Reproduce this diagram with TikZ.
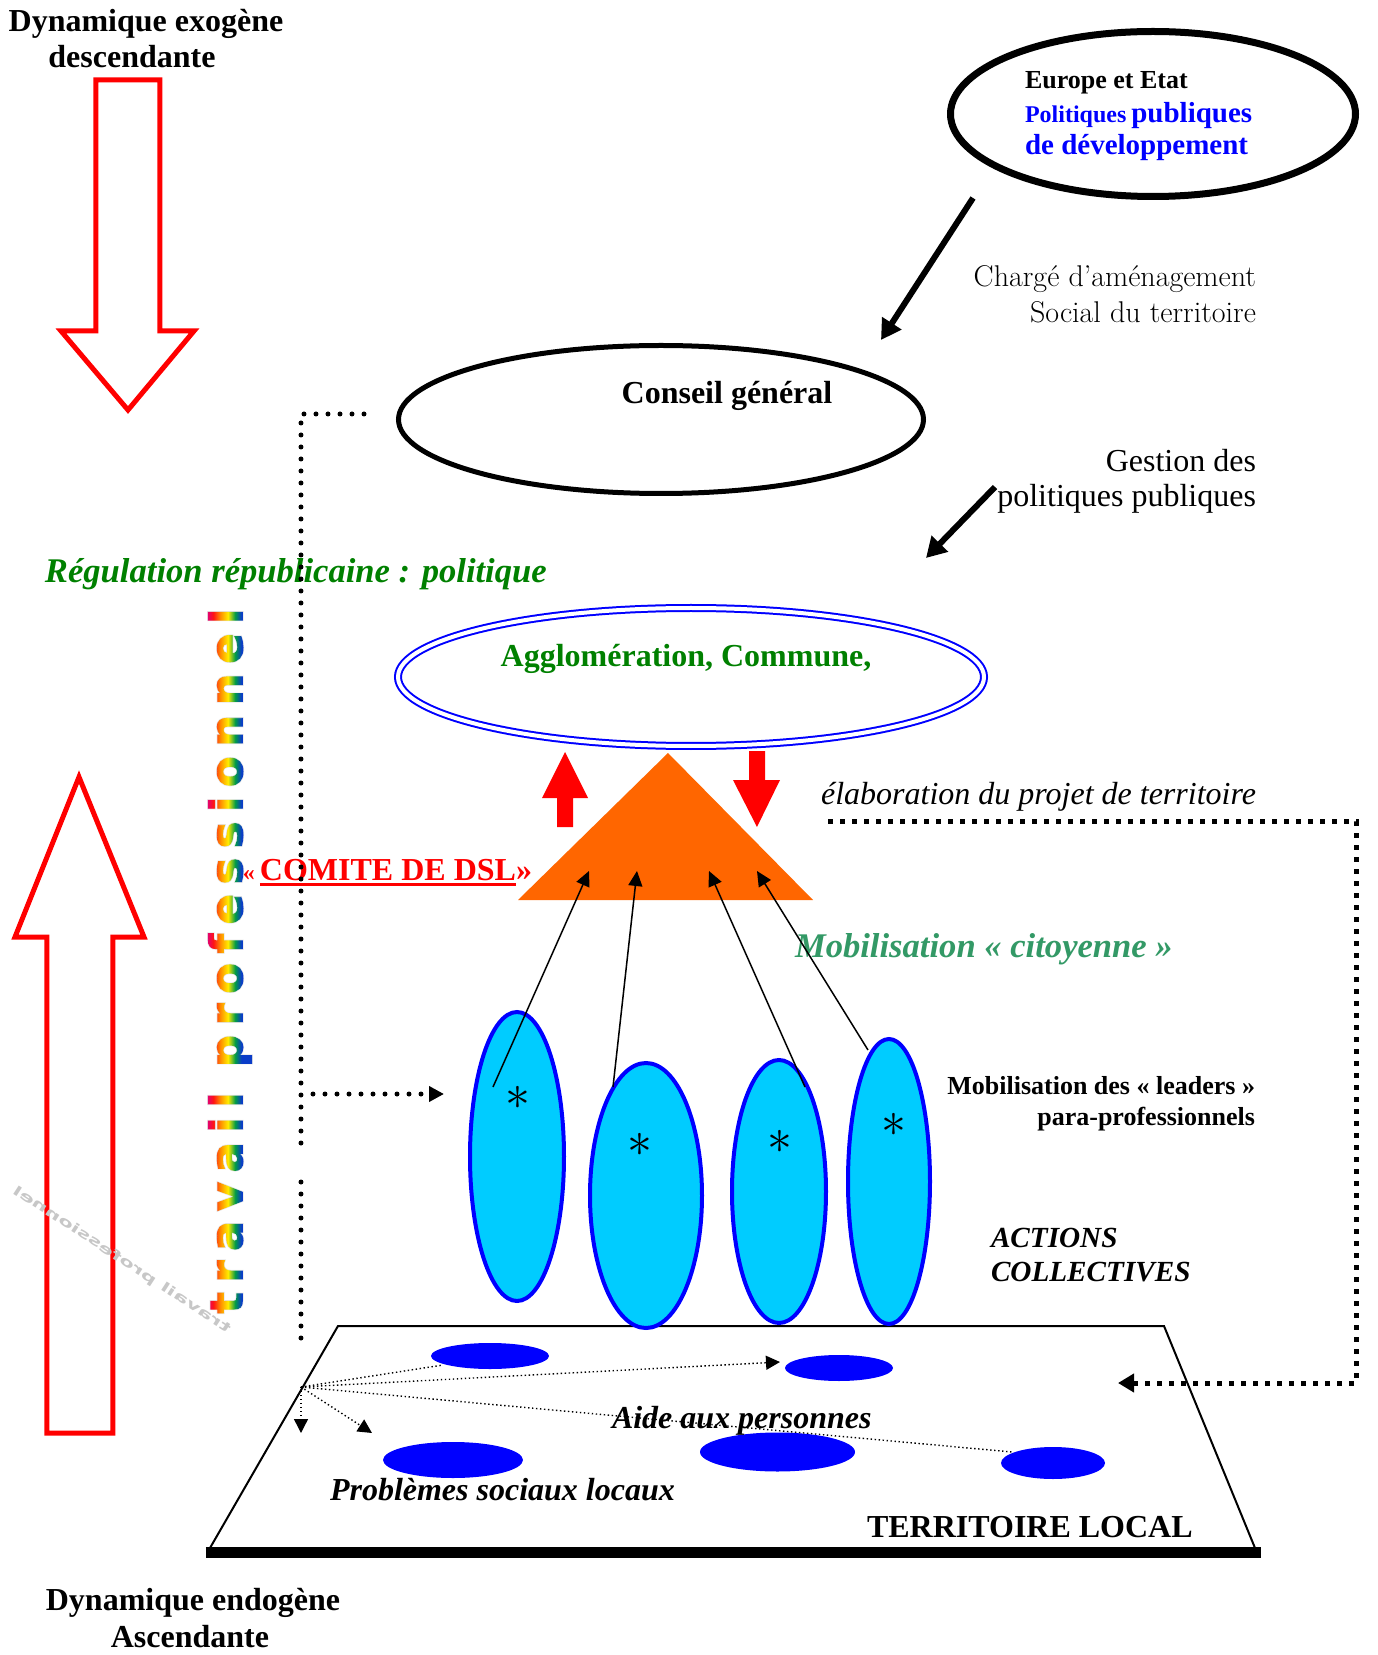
\documentclass[tikz,border=0pt]{standalone}
\usepackage{fontspec}
\setmainfont{Liberation Serif}
\newfontfamily\lmfont{Latin Modern Roman}
\newfontfamily\wafont{DejaVu Sans}[LetterSpace=21, FakeBold=2]
\newfontfamily\wahalo{DejaVu Sans}[LetterSpace=21, FakeBold=5]
\newfontfamily\wbfont{DejaVu Sans}
\usetikzlibrary{arrows.meta,shapes.geometric,calc,fadings}
\newcommand{\myfs}[1]{\fontsize{#1}{#1}\selectfont}
\definecolor{agreen}{RGB}{0,128,0}
\definecolor{sgreen}{RGB}{51,153,102}
\definecolor{ecyan}{RGB}{0,204,255}
\definecolor{torange}{RGB}{255,102,0}
\definecolor{pblue}{RGB}{0,0,255}
\definecolor{pred}{RGB}{255,0,0}
\definecolor{rbmag}{RGB}{225,0,120}
\definecolor{rbred}{RGB}{255,20,20}
\definecolor{rborange}{RGB}{255,145,0}
\definecolor{rbyellow}{RGB}{255,235,0}
\definecolor{rbgreen}{RGB}{0,155,70}
\definecolor{rbblue}{RGB}{10,60,200}
\pgfdeclarehorizontalshading{rainbow}{100bp}{color(0bp)=(rbmag); color(28bp)=(rbmag); color(34bp)=(rbred); color(41bp)=(rborange); color(48bp)=(rbyellow); color(55bp)=(rbgreen); color(61bp)=(rbblue); color(100bp)=(rbblue)}
\begin{document}
\begin{tikzpicture}[x=0.5pt,y=-0.5pt,
  txt/.style={inner sep=0pt, outer sep=0pt},
  bigell/.style={ellipse, draw, inner sep=0pt},
  group/.style={ellipse, draw=pblue, fill=ecyan, line width=2pt, inner sep=0pt},
  spot/.style={ellipse, fill=pblue, inner sep=0pt},
  rdots/.style={line width=2.5pt, dash pattern=on 0pt off 6pt, line cap=round},
  sqdots/.style={line width=2.5pt, dash pattern=on 2.5pt off 3.5pt},
  fdots/.style={line width=0.7pt, dash pattern=on 0.7pt off 1.3pt},
  thinarr/.style={line width=0.75pt, -{Triangle[length=7.5pt,width=7pt]}},
  heavyarr/.style={line width=3pt, -{Triangle[length=10pt,width=11pt]}},
  outarrow/.style={draw=pred, line width=2.5pt, line join=miter},
  blockarr/.style={fill=pred}]
\pgfinterruptpicture
\pgfdeclarefading{travailfade}{\pgfpicture
  \pgfpathrectangle{\pgfpoint{-40pt}{-200pt}}{\pgfpoint{80pt}{400pt}}\pgfusepath{use as bounding box}%
  \pgftext[rotate=90]{\color{white}\wafont\bfseries\myfs{22.5}travail professionnel}\endpgfpicture}
\endpgfinterruptpicture
\begin{scope}[shift={(-230,-961)}]
\useasboundingbox (0,0) rectangle (1377,1655);

% ---- big outline arrows (left)
\draw[outarrow] (96,80) -- (160,80) -- (160,331) -- (194,331) -- (128,410) -- (61,331) -- (96,331) -- cycle;
\draw[outarrow] (47,1433) -- (113,1433) -- (113,937) -- (144,937) -- (79,777) -- (15,937) -- (47,937) -- cycle;

% ---- shadow of the vertical text
\node[txt, text=black!22, font={\wbfont\bfseries\myfs{11}}, rotate=-33, xscale=-1, yscale=0.6] (shadow) at (122,1260) {travail professionnel};

% ---- top ellipse
\node[bigell, line width=3.5pt, minimum width=202.5pt, minimum height=82.5pt] (eu) at (1153,114) {};
\node[txt, anchor=base west, font={\bfseries\myfs{13}}] (eu1) at (1025,89) {Europe et Etat};
\node[txt, anchor=base west, text=pblue, font=\bfseries] (eu2) at (1025,123) {{\myfs{12}Politiques} {\myfs{14.5}publiques}};
\node[txt, anchor=base west, text=pblue, font={\bfseries\myfs{14.5}}] (eu3) at (1025,155) {de développement};

\coordinate (cas) at (973,198);
\coordinate (cat) at (881,340);
\draw[heavyarr] (cas) -- (cat);
\node[txt, anchor=base east, font={\lmfont\myfs{15}}] (ch1) at (1256,287) {Chargé d’aménagement};
\node[txt, anchor=base east, font={\lmfont\myfs{15}}] (ch2) at (1256,323) {Social du territoire};

% ---- Conseil general
\node[bigell, line width=2.5pt, minimum width=262.5pt, minimum height=74pt] (cg) at (661,419.5) {};
\node[txt, anchor=base, font={\bfseries\myfs{16}}] (cgt) at (727,404) {Conseil général};

\node[txt, anchor=base east, font={\myfs{16}}] (ge1) at (1256,472) {Gestion des};
\node[txt, anchor=base east, font={\myfs{16}}] (ge2) at (1256,507) {politiques publiques};
\coordinate (gas) at (995,487);
\coordinate (gat) at (926,558);
\draw[heavyarr] (gas) -- (gat);

% ---- Regulation
\node[txt, anchor=base west, text=agreen, font={\bfseries\itshape\myfs{17.3}}] (reg) at (45,583) {Régulation républicaine : politique};

% ---- Agglomeration
\node[bigell, draw=pblue, line width=1pt, double=white, double distance=2pt, minimum width=293pt, minimum height=69pt] (agg) at (691,677) {};
\node[txt, anchor=base, text=agreen, font={\bfseries\myfs{16}}] (aggt) at (686,667) {Agglomération, Commune,};

% ---- triangle and red block arrows
\coordinate (tria) at (668,753);
\coordinate (trib) at (813,900);
\coordinate (tric) at (518,900);
\fill[torange] (tria) -- (trib) -- (tric) -- cycle;
\fill[blockarr] (557,827) -- (573,827) -- (573,798) -- (588,798) -- (565,752) -- (542,798) -- (557,798) -- cycle;
\fill[blockarr] (749,751) -- (765,751) -- (765,780) -- (780,780) -- (757,827) -- (733,780) -- (749,780) -- cycle;

% ---- comite
\node[txt, anchor=base west, text=pred, font={\bfseries\myfs{12}}] (lq) at (243,880) {«};
\node[txt, anchor=base west, text=pred, font={\bfseries\myfs{16}}] (cmt) at (260,880) {COMITE DE DSL};
\node[txt, anchor=base west, text=pred, font={\bfseries\myfs{16}}] (rq) at (cmt.base east) {»};
\draw[pred, line width=1.5pt] ($(cmt.base west)+(0,4)$) -- ($(cmt.base east)+(0,4)$);

% ---- elaboration
\node[txt, anchor=base east, font={\itshape\myfs{16}}] (ela) at (1256,805) {élaboration du projet de territoire};
\coordinate (el1) at (828,821);
\coordinate (el2) at (1356,821);
\coordinate (el3) at (1356,1383);
\coordinate (el4) at (1118,1383);
\draw[sqdots, -{Triangle[length=8pt,width=9pt]}] (el1) -- (el2) -- (el3) -- (el4);

% ---- mobilisation
\node[txt, anchor=base west, text=sgreen, font={\bfseries\itshape\myfs{17.3}}] (mob) at (795,957) {Mobilisation « citoyenne »};
\node[txt, anchor=base east, font={\bfseries\myfs{13}}] (lead1) at (1255,1094) {Mobilisation des « leaders »};
\node[txt, anchor=base east, font={\bfseries\myfs{13}}] (lead2) at (1255,1125) {para-professionnels};
\node[txt, anchor=base west, font={\bfseries\itshape\myfs{14.6}}] (act1) at (991,1247) {ACTIONS};
\node[txt, anchor=base west, font={\bfseries\itshape\myfs{14.6}}] (act2) at (991,1281) {COLLECTIVES};

% ---- territory
\coordinate (p1) at (338,1326);
\coordinate (p2) at (1164,1326);
\coordinate (p3) at (1255,1548);
\coordinate (p4) at (210,1548);
\draw[line width=1pt] (p1) -- (p2) -- (p3) -- (p4) -- cycle;
\coordinate (bar1) at (206,1552.5);
\coordinate (bar2) at (1261,1552.5);
\draw[line width=5.5pt] (bar1) -- (bar2);

% ---- group ellipses
\node[group, minimum width=47pt, minimum height=144.5pt] (e1) at (517,1156.5) {};
\node[group, minimum width=56pt, minimum height=132.5pt] (e2) at (646,1195.5) {};
\node[group, minimum width=47pt, minimum height=131.5pt] (e3) at (779,1191.5) {};
\node[group, minimum width=41pt, minimum height=142.5pt] (e4) at (889,1181.5) {};
\node[txt, font={\myfs{40}}] (s1) at (518,1098) {$\ast$};
\node[txt, font={\myfs{40}}] (s2) at (640,1145) {$\ast$};
\node[txt, font={\myfs{40}}] (s3) at (780,1142) {$\ast$};
\node[txt, font={\myfs{40}}] (s4) at (894,1125) {$\ast$};

\coordinate (a1s) at (493,1087); \coordinate (a1t) at (589,871);
\coordinate (a2s) at (613,1087); \coordinate (a2t) at (637,871);
\coordinate (a3s) at (805,1087); \coordinate (a3t) at (709,871);
\coordinate (a4s) at (868,1050); \coordinate (a4t) at (757,871);
\draw[thinarr] (a1s) -- (a1t);
\draw[thinarr] (a2s) -- (a2t);
\draw[thinarr] (a3s) -- (a3t);
\draw[thinarr] (a4s) -- (a4t);

% ---- spots
\node[spot, minimum width=59pt, minimum height=13pt] (b1) at (490,1356) {};
\node[spot, minimum width=54pt, minimum height=13pt] (b2) at (839,1368) {};
\node[spot, minimum width=70pt, minimum height=18pt] (b3) at (453,1460) {};
\node[spot, minimum width=77.5pt, minimum height=19.5pt] (b4) at (777.5,1452) {};
\node[spot, minimum width=52pt, minimum height=16pt] (b5) at (1053,1463) {};

\coordinate (o) at (301,1387);
\coordinate (t1) at (443,1365);
\coordinate (t2) at (780,1362);
\coordinate (t3) at (1012,1452);
\coordinate (t4) at (301,1433);
\coordinate (t5) at (372,1433);
\draw[fdots] (o) -- (t1);
\draw[fdots, -{Triangle[length=7pt,width=7pt]}] (o) -- (t2);
\draw[fdots] (o) -- (t3);
\draw[fdots, -{Triangle[length=7pt,width=7pt]}] (o) -- (t4);
\draw[fdots, -{Triangle[length=7pt,width=7pt]}] (o) -- (t5);

\node[txt, anchor=base west, font={\bfseries\itshape\myfs{16}}] (aide) at (612,1428) {Aide aux personnes};
\node[txt, anchor=base west, font={\bfseries\itshape\myfs{16}}] (prob) at (330,1500) {Problèmes sociaux locaux};
\node[txt, anchor=base west, font={\bfseries\myfs{16}}] (terr) at (867,1537) {TERRITOIRE LOCAL};

% ---- titles
\node[txt, anchor=base, font={\bfseries\myfs{16}}] (dyn1) at (146,32) {Dynamique exogène};
\node[txt, anchor=base, font={\bfseries\myfs{16}}] (dyn2) at (132,68) {descendante};
\node[txt, anchor=base, font={\bfseries\myfs{16}}] (end1) at (193,1610) {Dynamique endogène};
\node[txt, anchor=base, font={\bfseries\myfs{16}}] (end2) at (190,1647) {Ascendante};

% ---- round dotted lines (left)
\coordinate (d0) at (364,414);
\coordinate (d1) at (301,414);
\coordinate (d2) at (301,1145);
\coordinate (d3) at (301,1182);
\coordinate (d4) at (301,1340);
\coordinate (dh1) at (313,1094);
\coordinate (dh2) at (444,1094);
\draw[rdots] (d0) -- (d1) -- (d2);
\draw[rdots] (d3) -- (d4);
\draw[rdots, -{Triangle[length=7.5pt,width=7.5pt]}] (dh1) -- (dh2);
\end{scope}

% ---- rainbow vertical text with grey halo (centred on the picture origin)
\node[txt, rotate=90, text=black!10, font={\wahalo\bfseries\myfs{22.5}}] (travail) at (0,0) {travail professionnel};
\shade[shading=rainbow, path fading=travailfade, fit fading=false] (-26,-380) rectangle (26,380);
\end{tikzpicture}
\end{document}
